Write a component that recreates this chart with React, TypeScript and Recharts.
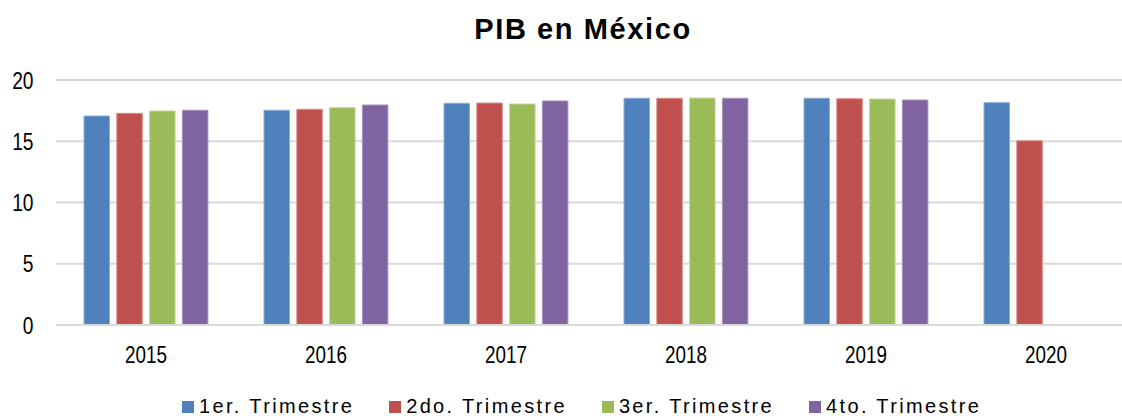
import { Bar, BarChart, CartesianGrid, XAxis, YAxis } from 'recharts';

const years = ['2015', '2016', '2017', '2018', '2019', '2020'];
const q1 = [17.06, 17.53, 18.1, 18.51, 18.51, 18.15];
const q2 = [17.28, 17.61, 18.12, 18.51, 18.47, 15.04];
const q3 = [17.47, 17.74, 18.04, 18.53, 18.45, null];
const q4 = [17.53, 17.96, 18.29, 18.51, 18.37, null];
const yTicks = [0, 5, 10, 15, 20];

const SERIES = [
    { key: 'q1', name: '1er. Trimestre', color: '#4F81BD', edge: '#8eaed6' },
    { key: 'q2', name: '2do. Trimestre', color: '#C0504D', edge: '#d98d8a' },
    { key: 'q3', name: '3er. Trimestre', color: '#9BBB59', edge: '#c3d89a' },
    { key: 'q4', name: '4to. Trimestre', color: '#8064A2', edge: '#a894c0' },
];

const data = years.map((year, i) => ({ year, q1: q1[i], q2: q2[i], q3: q3[i], q4: q4[i] }));

const FONT = '"Liberation Sans", Arial, sans-serif';

// Excel-ish narrow tick labels
const XTick = ({ x, y, payload }: any) => (
    <g transform={`translate(${x},${y})`}>
        <text transform="scale(0.82,1)" textAnchor="middle" dy={38} fontSize={23} fontFamily={FONT} fill="#000">
            {payload.value}
        </text>
    </g>
);

const YTick = ({ x, y, payload }: any) => (
    <g transform={`translate(${x - 22.5},${y})`}>
        <text transform="scale(0.8,1)" textAnchor="end" dy={8.5} fontSize={24} fontFamily={FONT} fill="#000">
            {payload.value}
        </text>
    </g>
);

export default function App() {
    return (
        <div style={{ position: 'fixed', left: 0, top: 0, width: 1122, height: 416, overflow: 'hidden', background: '#fff' }}>
            <div
                style={{
                    position: 'absolute',
                    top: 14.5,
                    left: 0,
                    width: 1166,
                    textAlign: 'center',
                    fontFamily: FONT,
                    fontWeight: 700,
                    fontSize: 29,
                    lineHeight: '29px',
                    letterSpacing: 1.6,
                    color: '#000',
                }}
            >
                PIB en México
            </div>

            <BarChart
                width={1150}
                height={416}
                data={data}
                margin={{ top: 80, right: 14, left: 0, bottom: 0 }}
                barSize={25.5}
                barGap={7.3}
            >
                <CartesianGrid vertical={false} stroke="#d9d9d9" strokeWidth={2} />
                <XAxis
                    dataKey="year"
                    height={91}
                    tickSize={0}
                    tickMargin={0}
                    tickLine={false}
                    axisLine={{ stroke: '#d9d9d9', strokeWidth: 2 }}
                    tick={<XTick />}
                    interval={0}
                />
                <YAxis
                    width={56}
                    domain={[0, 20]}
                    ticks={yTicks}
                    tickSize={0}
                    tickMargin={0}
                    tickLine={false}
                    axisLine={false}
                    tick={<YTick />}
                    interval={0}
                />
                {SERIES.map(s => (
                    <Bar
                        key={s.key}
                        dataKey={s.key}
                        name={s.name}
                        fill={s.color}
                        stroke={s.edge}
                        strokeWidth={1}
                        isAnimationActive={false}
                    />
                ))}
            </BarChart>

            <div style={{ position: 'absolute', left: 182, top: 396, display: 'flex', alignItems: 'flex-start' }}>
                {SERIES.map(s => (
                    <div key={s.key} style={{ display: 'flex', alignItems: 'flex-start', marginRight: 35 }}>
                        <div style={{ width: 12, height: 12, background: s.color, marginTop: 5, marginRight: 5 }} />
                        <span
                            style={{
                                fontFamily: FONT,
                                fontSize: 20,
                                lineHeight: '20px',
                                letterSpacing: 2.35,
                                color: '#000',
                                whiteSpace: 'nowrap',
                            }}
                        >
                            {s.name}
                        </span>
                    </div>
                ))}
            </div>
        </div>
    );
}
